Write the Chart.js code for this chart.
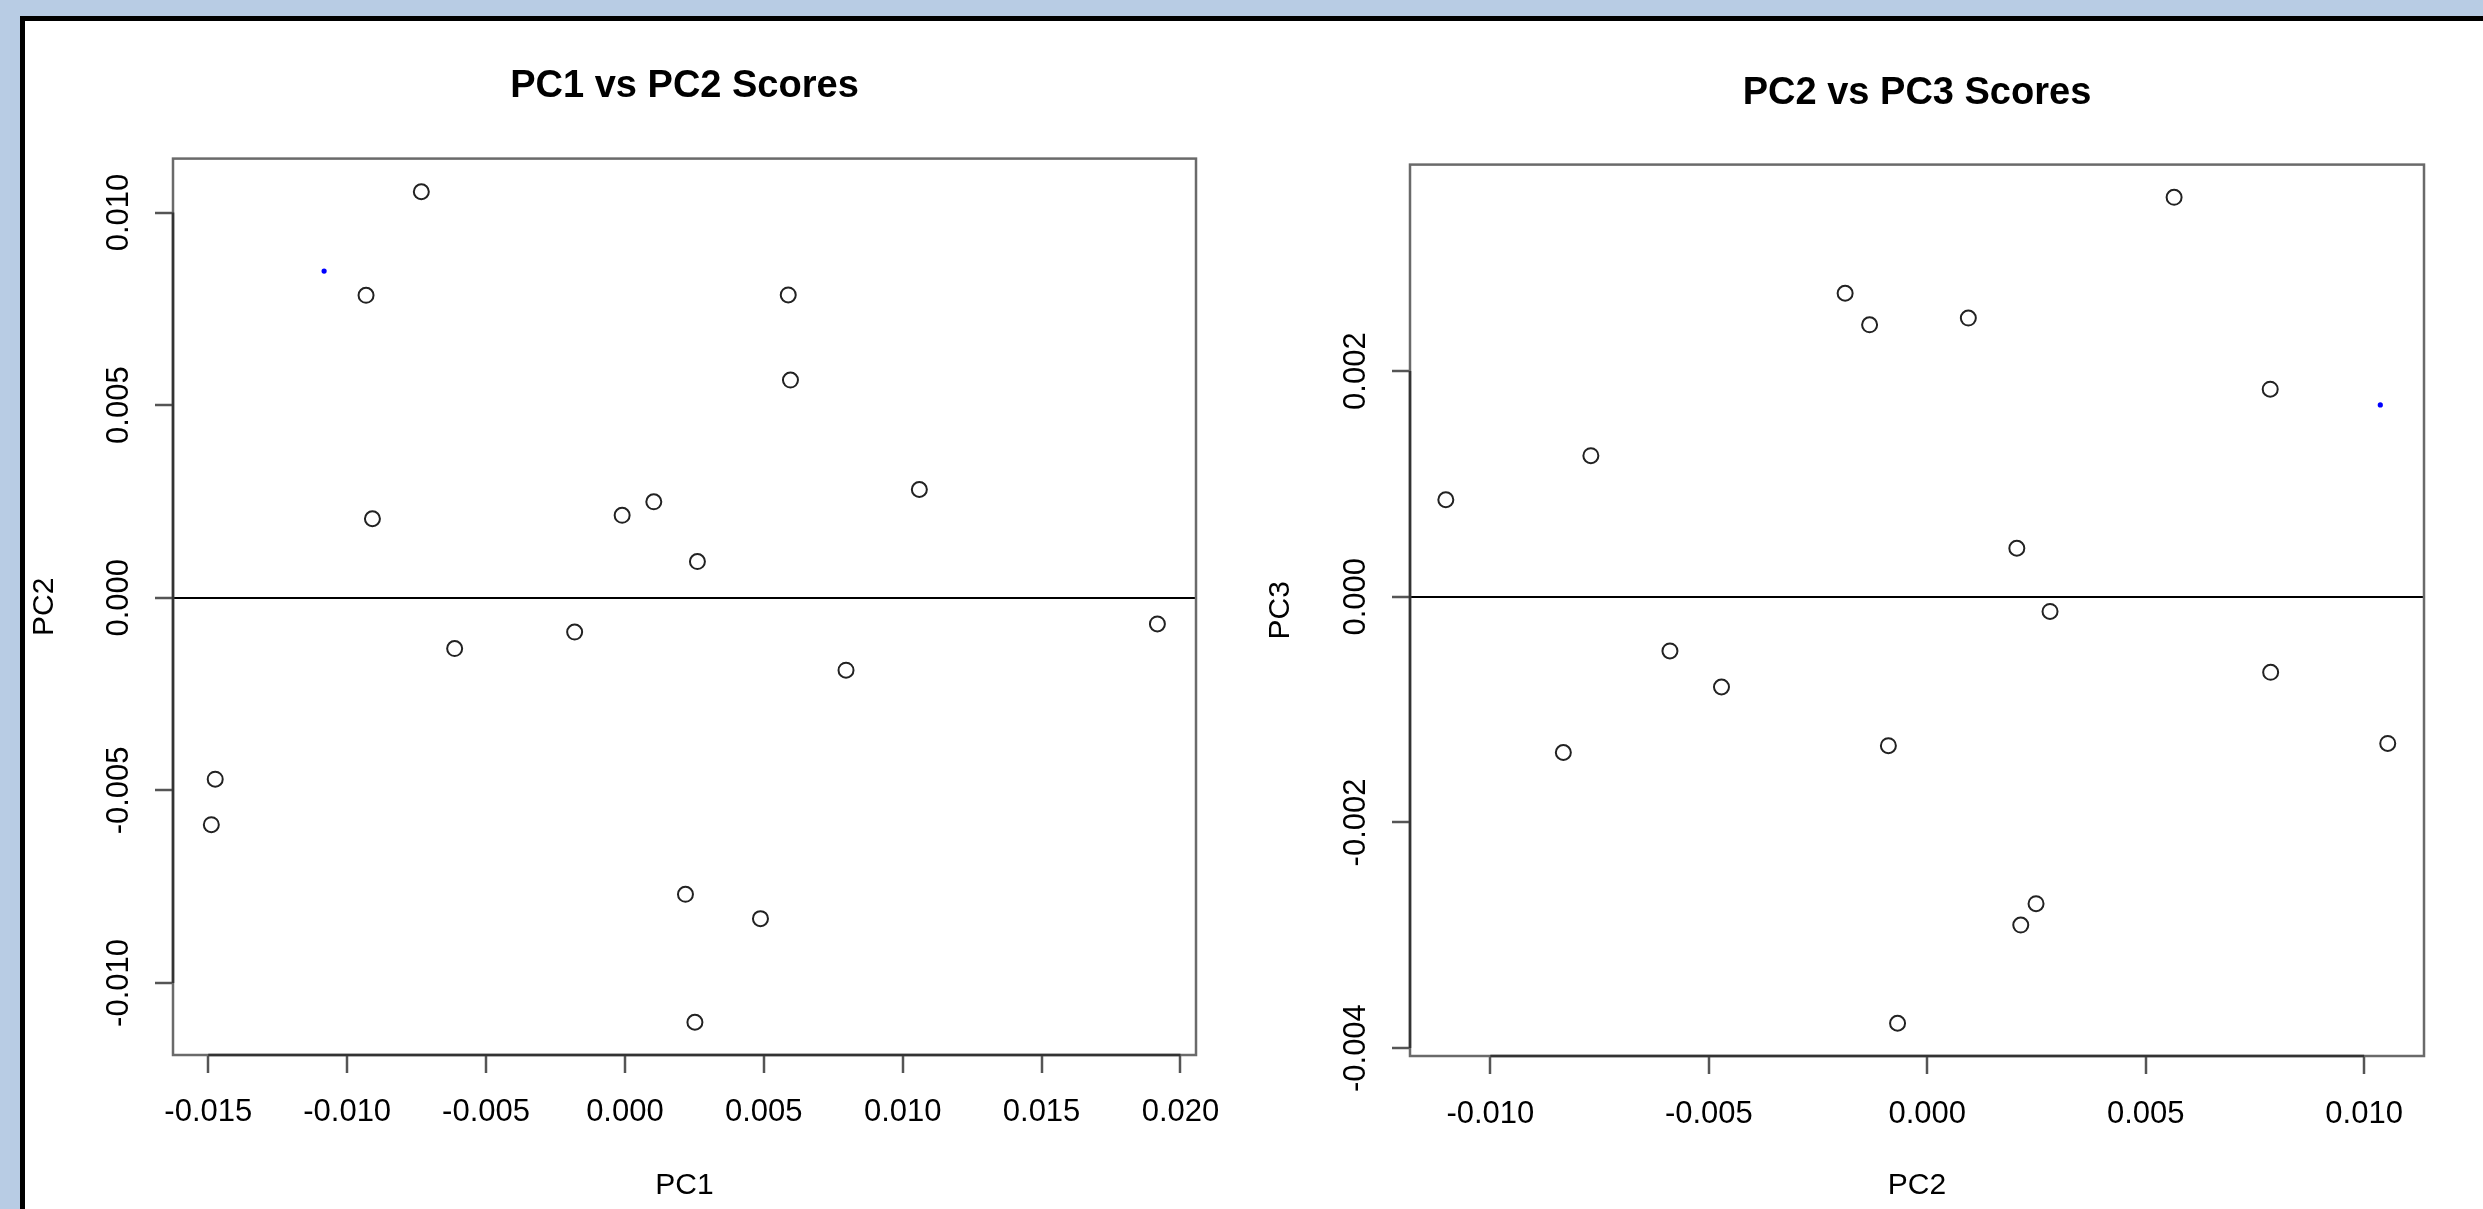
<!DOCTYPE html>
<html>
<head>
<meta charset="utf-8">
<title>PC scores</title>
<script src="https://cdn.jsdelivr.net/npm/chart.js@4.4.1/dist/chart.umd.min.js"></script>
<style>
  html, body { margin: 0; padding: 0; overflow: hidden; }
  body { width: 2483px; height: 1209px; background: #b8cce4; position: relative; }
  #panel { position: absolute; left: 20px; top: 16px; width: 3000px; height: 2000px; background: #fff; border-left: 5px solid #000; border-top: 5px solid #000; }
  canvas { position: absolute; }
  #leftPlot { left: 25px; top: 21px; }
  #rightPlot { left: 1240px; top: 21px; }
</style>
</head>
<body>
<div id="panel"></div>
<canvas id="leftPlot" width="1215" height="1188"></canvas>
<canvas id="rightPlot" width="1243" height="1188"></canvas>
<script>
// PCA scores, one entry per sample (open circles)
var pc1 = [-0.00733, -0.00932, 0.00588, 0.00596, 0.01060, 0.00104, -0.00010, -0.00909, 0.00261,
           0.01917, -0.00181, -0.00613, 0.00796, -0.01475, -0.01489, 0.00218, 0.00488, 0.00252];
var pc2 = [0.01054, 0.00785, 0.00786, 0.00565, 0.00281, 0.00249, 0.00214, 0.00205, 0.00094,
           -0.00068, -0.00089, -0.00132, -0.00188, -0.00471, -0.00589, -0.00770, -0.00833, -0.01102];
var pc3 = [-0.00130, 0.00184, -0.00067, 0.00354, -0.00013, -0.00272, -0.00291, 0.00043, 0.00247,
           -0.00378, -0.00132, 0.00241, 0.00269, -0.00080, -0.00048, 0.00125, -0.00138, 0.00086];

// projected new sample (blue dot) in each panel: [x, y]
var newPC1PC2 = [-0.01083, 0.00848];
var newPC2PC3 = [0.01037, 0.00170];

// axis limits and tick labels as in the picture
var limPC1 = [-0.01627, 0.02056];
var limPC2left = [-0.01187, 0.01140];
var limPC2right = [-0.01184, 0.01137];
var limPC3 = [-0.00407, 0.00383];
var ticksPC1 = [-0.015, -0.010, -0.005, 0, 0.005, 0.010, 0.015, 0.020];
var ticksPC2 = [-0.010, -0.005, 0, 0.005, 0.010];
var ticksPC3 = [-0.004, -0.002, 0, 0.002];

Chart.defaults.font.family = '"Liberation Sans", Arial, sans-serif';
Chart.defaults.color = '#000';

function pairs(xs, ys) {
    return xs.map(function (x, i) { return {x: x, y: ys[i]}; });
}

// R style box around the plot region plus axis lines spanning first..last tick
var rBox = {
    id: 'rBox',
    afterDraw: function (chart) {
        var a = chart.chartArea, ctx = chart.ctx;
        var sx = chart.scales.x, sy = chart.scales.y;
        ctx.save();
        ctx.strokeStyle = '#6a6a6a';
        ctx.lineWidth = 2.5;
        ctx.strokeRect(a.left, a.top, a.right - a.left, a.bottom - a.top);
        ctx.strokeStyle = '#333';
        ctx.beginPath();
        ctx.moveTo(sx.getPixelForValue(sx.ticks[0].value), a.bottom);
        ctx.lineTo(sx.getPixelForValue(sx.ticks[sx.ticks.length - 1].value), a.bottom);
        ctx.moveTo(a.left, sy.getPixelForValue(sy.ticks[0].value));
        ctx.lineTo(a.left, sy.getPixelForValue(sy.ticks[sy.ticks.length - 1].value));
        ctx.stroke();
        ctx.restore();
    }
};

function axis(lim, ticks, label, opts) {
    return {
        type: 'linear',
        min: lim[0],
        max: lim[1],
        afterBuildTicks: function (s) { s.ticks = ticks.map(function (v) { return {value: v}; }); },
        afterFit: function (s) {
            if (s.isHorizontal()) s.height = opts.size; else s.width = opts.size;
            s.paddingLeft = s.paddingRight = s.paddingTop = s.paddingBottom = 0;
        },
        border: {display: false},
        grid: {
            color: function (c) { return opts.zeroLine && c.tick && c.tick.value === 0 ? '#000' : 'rgba(0,0,0,0)'; },
            lineWidth: 2,
            drawTicks: true,
            tickLength: 18,
            tickColor: '#555',
            tickWidth: 2.5
        },
        ticks: {
            autoSkip: false,
            minRotation: opts.rot,
            maxRotation: opts.rot,
            crossAlign: 'center',
            padding: opts.pad,
            font: {size: 31},
            callback: function (v) { return Number(v).toFixed(3); }
        },
        title: {
            display: true,
            text: label,
            font: {size: 30, lineHeight: 1},
            padding: opts.titlePad
        }
    };
}

function makePlot(id, title, titlePad, layoutPad, xs, ys, extra, xLim, xTicks, xLabel, yLim, yTicks, yLabel, sizes) {
    return new Chart(document.getElementById(id).getContext('2d'), {
        type: 'scatter',
        data: {
            datasets: [{
                data: pairs(xs, ys),
                pointStyle: 'circle',
                pointRadius: 7.5,
                pointBorderWidth: 2,
                pointBorderColor: '#222',
                pointBackgroundColor: 'rgba(0,0,0,0)'
            }, {
                data: [{x: extra[0], y: extra[1]}],
                pointRadius: 2.6,
                pointBorderWidth: 0,
                pointBackgroundColor: '#0000ff'
            }]
        },
        options: {
            responsive: false,
            animation: false,
            events: [],
            layout: {padding: layoutPad},
            plugins: {
                legend: {display: false},
                tooltip: {enabled: false},
                title: {
                    display: true,
                    text: title,
                    fullSize: false,
                    font: {size: 38, weight: 'bold', lineHeight: 1.2},
                    padding: titlePad
                }
            },
            scales: {
                x: axis(xLim, xTicks, xLabel, {size: sizes[0], rot: 0, pad: sizes[2], zeroLine: false, titlePad: {bottom: 8}}),
                y: axis(yLim, yTicks, yLabel, {size: sizes[1], rot: 90, pad: -8, zeroLine: true, titlePad: {top: sizes[3]}})
            }
        },
        plugins: [rBox]
    });
}

makePlot('leftPlot', 'PC1 vs PC2 Scores', {top: 43, bottom: 49}, {left: 0, right: 44, top: 0, bottom: 0},
    pc1, pc2, newPC1PC2, limPC1, ticksPC1, 'PC1', limPC2left, ticksPC2, 'PC2', [154, 148, 39, 5]);

makePlot('rightPlot', 'PC2 vs PC3 Scores', {top: 50, bottom: 48}, {left: 22, right: 59, top: 0, bottom: 0},
    pc2, pc3, newPC2PC3, limPC2right, ticksPC2, 'PC2', limPC3, ticksPC3, 'PC3', [153, 148, 40, 4]);
</script>
</body>
</html>
